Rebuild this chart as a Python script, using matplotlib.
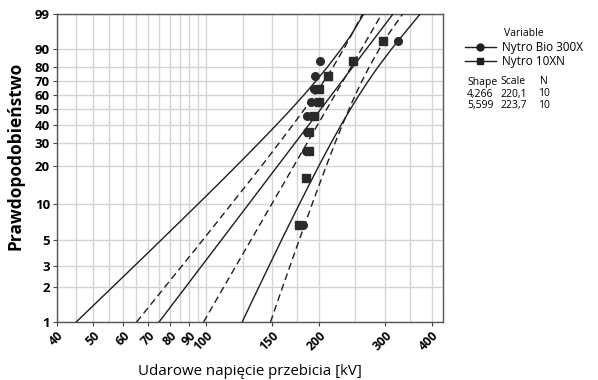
import numpy as np
import matplotlib
matplotlib.use("Agg")
import matplotlib.pyplot as plt
from matplotlib.lines import Line2D

# ---------------- data ----------------
series_names = ["Nytro Bio 300X", "Nytro 10XN"]
shape_vals = [4.266, 5.599]
scale_vals = [220.1, 223.7]
n_vals = [10, 10]
shape_txt = ["4,266", "5,599"]
scale_txt = ["220,1", "223,7"]

plot_pos = [6.7, 16.3, 26.0, 35.6, 45.2, 54.8, 64.4, 74.0, 83.7, 93.3]
bio_x = [181, 184, 185, 186, 186, 190, 194, 195, 201, 324]
xn_x = [177, 185, 188, 188, 194, 200, 200, 211, 246, 296]

ci_p = [1, 1.5, 2, 3, 4, 5, 7, 10, 15, 20, 30, 40, 50, 60, 70, 80, 90, 95, 99]
bio_lo = [45.0, 51.3, 56.3, 64.2, 70.5, 75.8, 84.6, 95.2, 109.0, 120.2, 138.6, 154.2,
          168.4, 182.0, 195.7, 210.7, 229.3, 242.9, 263.0]
bio_hi = [124.7, 132.4, 138.2, 146.9, 153.5, 158.8, 167.4, 177.3, 189.7, 199.5, 215.5, 229.3,
          242.3, 255.5, 270.0, 287.3, 312.3, 333.5, 372.0]
xn_lo = [65.2, 72.2, 77.6, 86.0, 92.5, 97.9, 106.6, 116.8, 129.9, 140.3, 156.8, 170.5,
         182.8, 194.3, 205.8, 218.0, 232.8, 243.3, 261.0]
xn_hi = [148.4, 155.0, 159.9, 167.2, 172.6, 177.0, 183.9, 191.7, 201.4, 208.9, 220.8, 230.9,
         240.3, 249.7, 259.9, 272.1, 289.6, 304.3, 334.0]

x_ticks = [40, 50, 60, 70, 80, 90, 100, 150, 200, 300, 400]
x_minor = [45, 55, 65, 75, 85, 95, 125, 175, 250, 350]
y_ticks = [1, 2, 3, 5, 10, 20, 30, 40, 50, 60, 70, 80, 90, 99]

# ---------------- figure ----------------
plt.rcParams['font.family'] = ['Open Sans', 'DejaVu Sans']
fig = plt.figure(figsize=(5.98, 3.80), dpi=100)
ax = fig.add_axes([57/598, 1-322/380, (443-57)/598, (322-14)/380])

def fwd(p):
    p = np.clip(np.asarray(p, dtype=float), 1e-6, 100 - 1e-9)
    return np.log(-np.log(1 - p/100.0))

def inv(u):
    return 100.0*(1 - np.exp(-np.exp(u)))

ax.set_xscale('log')
ax.set_yscale('function', functions=(fwd, inv))
ax.set_xlim(40, 428)
ax.set_ylim(1, 99)

line_c = '#1e1e1e'
dash = (0, (5, 3))
# fitted lines
p_fit = np.array([1, 99])
styles = ['-', dash]
for sh, sc, ls in zip(shape_vals, scale_vals, styles):
    xfit = sc*(-np.log(1 - p_fit/100.0))**(1.0/sh)
    ax.plot(xfit, p_fit, color=line_c, lw=1.0, linestyle=ls, zorder=3)

ax.plot(bio_lo, ci_p, color=line_c, lw=1.0, zorder=3)
ax.plot(bio_hi, ci_p, color=line_c, lw=1.0, zorder=3)
ax.plot(xn_lo, ci_p, color=line_c, lw=1.0, linestyle=dash, zorder=3)
ax.plot(xn_hi, ci_p, color=line_c, lw=1.0, linestyle=dash, zorder=3)

ax.plot(xn_x, plot_pos, 's', color='#2a2a2a', ms=5.5, zorder=4)
ax.plot(bio_x, plot_pos, 'o', color='#2a2a2a', ms=5.5, zorder=5)

ax.set_xticks(x_ticks)
ax.set_xticklabels([str(v) for v in x_ticks], rotation=45, ha='right',
                   rotation_mode='anchor', fontsize=8.8, fontweight='bold')
ax.set_xticks(x_minor, minor=True)
ax.set_xticklabels([], minor=True)
ax.set_yticks(y_ticks)
ax.set_yticklabels([str(v) for v in y_ticks], fontsize=9.5, fontweight='bold')
ax.yaxis.set_minor_locator(matplotlib.ticker.NullLocator())
ax.tick_params(axis='both', which='major', length=3, width=0.8, color='#444444', pad=2)
ax.tick_params(axis='x', which='minor', length=0)

ax.grid(True, which='both', color='#d4d4d4', lw=1.0, zorder=0)
ax.set_axisbelow(True)
for s in ax.spines.values():
    s.set_color('#555555')
    s.set_linewidth(1.0)

ax.set_ylabel('Prawdopodobieństwo', fontsize=12.5, fontweight='bold')
ax.yaxis.set_label_coords(-0.083, 0.54)
ax.set_xlabel('Udarowe napięcie przebicia [kV]', fontsize=10.8, labelpad=8)

# legend
handles = [Line2D([], [], color=line_c, lw=1.0, marker='o', ms=5),
           Line2D([], [], color=line_c, lw=1.0, marker='s', ms=5)]
leg = fig.legend(handles, series_names, title='Variable', loc='upper left',
                 bbox_to_anchor=(459/598, 1-22/380), frameon=False, fontsize=8.5,
                 title_fontsize=7.5, handlelength=2.6, borderpad=0, labelspacing=0.15,
                 handletextpad=0.5)

fs = 7.5
row_y = [82, 94, 105]
fig.text(467/598, 1-row_y[0]/380, 'Shape', fontsize=fs, va='center')
fig.text(500/598, 1-row_y[0]/380, 'Scale', fontsize=fs, va='center')
fig.text(540/598, 1-row_y[0]/380, 'N', fontsize=fs, va='center')
for i in range(2):
    yy = 1-row_y[i+1]/380
    fig.text(467/598, yy, shape_txt[i], fontsize=fs, va='center')
    fig.text(500/598, yy, scale_txt[i], fontsize=fs, va='center')
    fig.text(538/598, yy, str(n_vals[i]), fontsize=fs, va='center')

fig.savefig('out.png', dpi=100)
